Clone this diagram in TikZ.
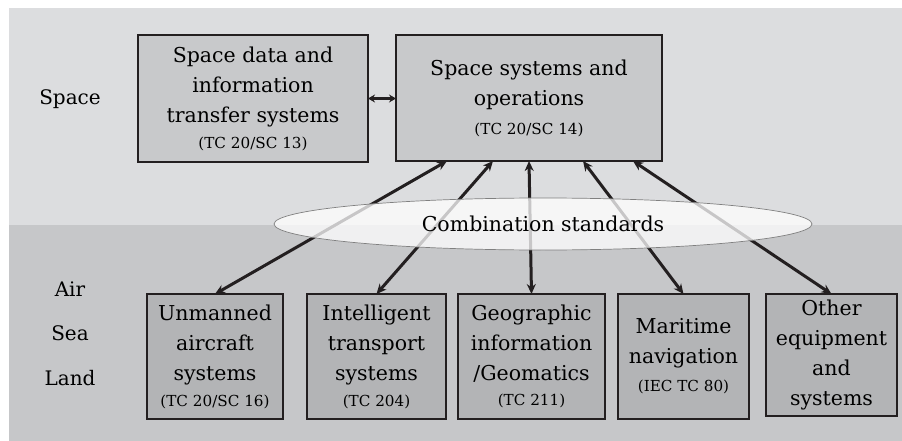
\documentclass[tikz,border=0pt]{standalone}
\usepackage{fontspec}
\setmainfont{DejaVu Serif}
\usetikzlibrary{positioning, arrows.meta, shapes.geometric}
\definecolor{skyband}{HTML}{DCDDDF}
\definecolor{groundband}{HTML}{C6C7C9}
\definecolor{topfill}{HTML}{C8C9CB}
\definecolor{lowfill}{HTML}{B3B4B6}
\definecolor{ink}{HTML}{231F20}
\newcommand{\tcref}[1]{{\fontsize{15.2}{24}\selectfont #1}}
\begin{document}
\begin{tikzpicture}[
        x=1pt, y=-1pt,
        node distance=12pt and 24pt,
        font=\fontsize{20.5}{30}\selectfont,
        box/.style={draw=ink, line width=2.2pt, outer sep=0pt, align=center, inner sep=0pt, anchor=north west},
        arrow/.style={draw=ink, line width=3pt, {Stealth[length=10pt,width=9pt]}-{Stealth[length=10pt,width=9pt]}},
        band/.style={font=\fontsize{20}{24}\selectfont}
    ]

    % Hintergrund
    \useasboundingbox (0,0) rectangle (902,441);
    \fill[skyband] (9,8) rectangle (902,225);
    \fill[groundband] (9,225) rectangle (902,441);

    % Ebenen
    \node (space) [band] at (70,99) {Space};
    \node (air) [band] at (70,289) {Air};
    \node (sea) [band] at (70,333) {Sea};
    \node (land) [band] at (70,378) {Land};

    % Weltraum
    \node (data) [box, fill=topfill, minimum width=230pt, minimum height=127pt] at (138,35)
        {Space data and\\information\\transfer systems\\[-4pt]\tcref{(TC 20/SC 13)}};
    \node (ops) [box, fill=topfill, minimum width=266pt, minimum height=126pt, right=28pt of data.north east, anchor=north west]
        {Space systems and\\operations\\[-1pt]\tcref{(TC 20/SC 14)}};

    % Luft, See, Land
    \node (uas) [box, fill=lowfill, minimum width=136pt, minimum height=125pt] at (147,294)
        {Unmanned\\aircraft\\systems\\[-4pt]\tcref{(TC 20/SC 16)}};
    \node (its) [box, fill=lowfill, minimum width=139pt, minimum height=125pt, right=24pt of uas.north east, anchor=north west]
        {Intelligent\\transport\\systems\\[-4pt]\tcref{(TC 204)}};
    \node (geo) [box, fill=lowfill, minimum width=147pt, minimum height=125pt, right=12pt of its.north east, anchor=north west]
        {Geographic\\information\\/Geomatics\\[-5pt]\tcref{(TC 211)}};
    \node (mar) [box, fill=lowfill, minimum width=131pt, minimum height=125pt, right=13pt of geo.north east, anchor=north west]
        {Maritime\\navigation\\[-2pt]\tcref{(IEC TC 80)}};
    \node (other) [box, fill=lowfill, minimum width=131pt, minimum height=122pt, right=17pt of mar.north east, anchor=north west]
        {Other\\equipment\\and\\systems};

    % Verbindungen
    \draw[draw=ink, line width=2.6pt, {Stealth[length=7pt,width=8pt]}-{Stealth[length=7pt,width=8pt]}]
        (data.east) -- (data.east -| ops.west);
    \draw[arrow] ([xshift=-82pt]ops.south) -- (uas.north);
    \draw[arrow] ([xshift=-36pt]ops.south) -- (its.north);
    \draw[arrow] (ops.south) -- (geo.north);
    \draw[arrow] ([xshift=54pt]ops.south) -- (mar.north);
    \draw[arrow] ([xshift=104pt]ops.south) -- (other.north);

    % Kombination
    \node (combo) [ellipse, draw=gray, line width=0.7pt, fill=white, fill opacity=0.75, text opacity=1,
        minimum width=538pt, minimum height=52pt, inner sep=0pt] at (543,224) {Combination standards};

\end{tikzpicture}
\end{document}
